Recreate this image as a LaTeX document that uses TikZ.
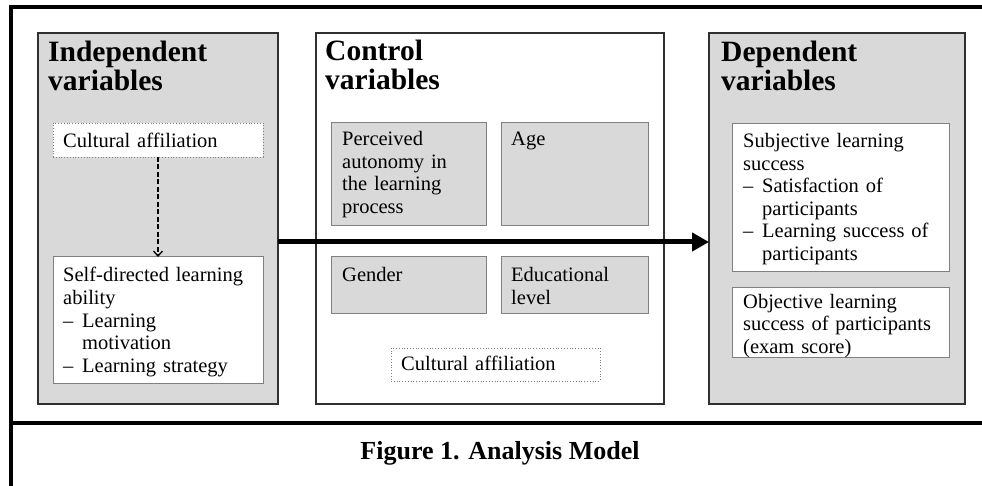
\documentclass[tikz,border=0pt]{standalone}
\usepackage{fontspec}
\setmainfont{Liberation Serif}
\usetikzlibrary{arrows.meta}
\definecolor{panelgray}{HTML}{D9D9D9}
\definecolor{boxedge}{HTML}{808080}
\definecolor{paneledge}{HTML}{303030}
\tikzset{
  panel/.style={draw=paneledge, line width=1.5pt, anchor=north west, inner sep=0pt, outer sep=0pt},
  graybox/.style={draw=boxedge, fill=panelgray, line width=1pt, anchor=north west, inner sep=0pt, outer sep=0pt},
  whitebox/.style={draw=boxedge, fill=white, line width=1pt, anchor=north west, inner sep=0pt, outer sep=0pt},
  dotbox/.style={draw=boxedge, fill=white, line width=0.8pt, dotted, anchor=north west, inner sep=0pt, outer sep=0pt},
  txt/.style={anchor=base west, inner sep=0pt, align=left, text width=200pt, font=\fontsize{20.5}{22.5}\selectfont},
  headtxt/.style={anchor=base west, inner sep=0pt, align=left, text width=200pt, font=\fontsize{29.5}{28.5}\selectfont\bfseries},
  captxt/.style={inner sep=0pt, font=\fontsize{26}{30}\selectfont\bfseries},
  bigarrow/.style={line width=5pt, -{Triangle[length=17pt,width=18pt]}},
  dasharrow/.style={line width=1.3pt, dash pattern=on 5pt off 2.5pt, -{Straight Barb[length=5pt,width=9pt,line width=1.3pt]}},
  framelines/.style={line width=4pt, black}
}
\newcommand{\dashitem}[1]{\makebox[19pt][l]{–}#1}
\newcommand{\contitem}[1]{\hspace*{19pt}#1}
\begin{document}
\begin{tikzpicture}[x=1pt,y=-1pt]
\useasboundingbox (0,0) rectangle (982,486);
\fill[white] (0,0) rectangle (982,486);

% panels
\node[panel, fill=panelgray, minimum width=240pt, minimum height=371pt] (indep) at (38,33) {};
\node[panel, fill=white, minimum width=348pt, minimum height=371pt] (ctrl) at (316,33) {};
\node[panel, fill=panelgray, minimum width=256pt, minimum height=371pt] (dep) at (709,33) {};

% headings
\node[headtxt] (indepH) at (48,62) {Independent\\variables};
\node[headtxt] (ctrlH) at (325,61) {Control\\variables};
\node[headtxt] (depH) at (721,62) {Dependent\\variables};

% independent boxes
\node[dotbox, minimum width=210pt, minimum height=34pt] (cultA) at (53,123) {};
\node[txt] (cultAT) at (63,148) {Cultural affiliation};
\node[whitebox, minimum width=210pt, minimum height=126pt] (self) at (53,257) {};
\node[txt] (selfT) at (63,282) {Self-directed learning\\ability\\\dashitem{Learning}\\\contitem{motivation}\\\dashitem{Learning strategy}};

% control boxes
\node[graybox, minimum width=155pt, minimum height=103pt] (perc) at (331,123) {};
\node[txt] (percT) at (342,146) {Perceived\\autonomy in\\the learning\\process};
\node[graybox, minimum width=147pt, minimum height=103pt] (age) at (501,123) {};
\node[txt] (ageT) at (511,146) {Age};
\node[graybox, minimum width=155pt, minimum height=56pt] (gender) at (331,257) {};
\node[txt] (genderT) at (342,282) {Gender};
\node[graybox, minimum width=147pt, minimum height=56pt] (edu) at (501,257) {};
\node[txt] (eduT) at (511,282) {Educational\\level};
\node[dotbox, minimum width=209pt, minimum height=33pt] (cultB) at (391,348) {};
\node[txt] (cultBT) at (401,370) {Cultural affiliation};

% dependent boxes
\node[whitebox, minimum width=217pt, minimum height=148pt] (subj) at (732,124) {};
\node[txt] (subjT) at (743,148) {Subjective learning\\success\\\dashitem{Satisfaction of}\\\contitem{participants}\\\dashitem{Learning success of}\\\contitem{participants}};
\node[whitebox, minimum width=217pt, minimum height=70pt] (obj) at (732,287) {};
\node[txt] (objT) at (743,308) {Objective learning\\success of participants\\(exam score)};

% connectors
\coordinate (arrowlevel) at (0,242);
\draw[bigarrow] (indep.east |- arrowlevel) -- (dep.west |- arrowlevel);
\draw[dasharrow] (cultA.south) -- (self.north);

% outer frame
\draw[framelines] (11,7) -- (984,7);
\draw[framelines] (11,5) -- (11,486);
\draw[framelines] (9,423) -- (984,423);

% caption
\node[captxt] (caption) at (500,453) {Figure 1. Analysis Model};
\end{tikzpicture}
\end{document}
